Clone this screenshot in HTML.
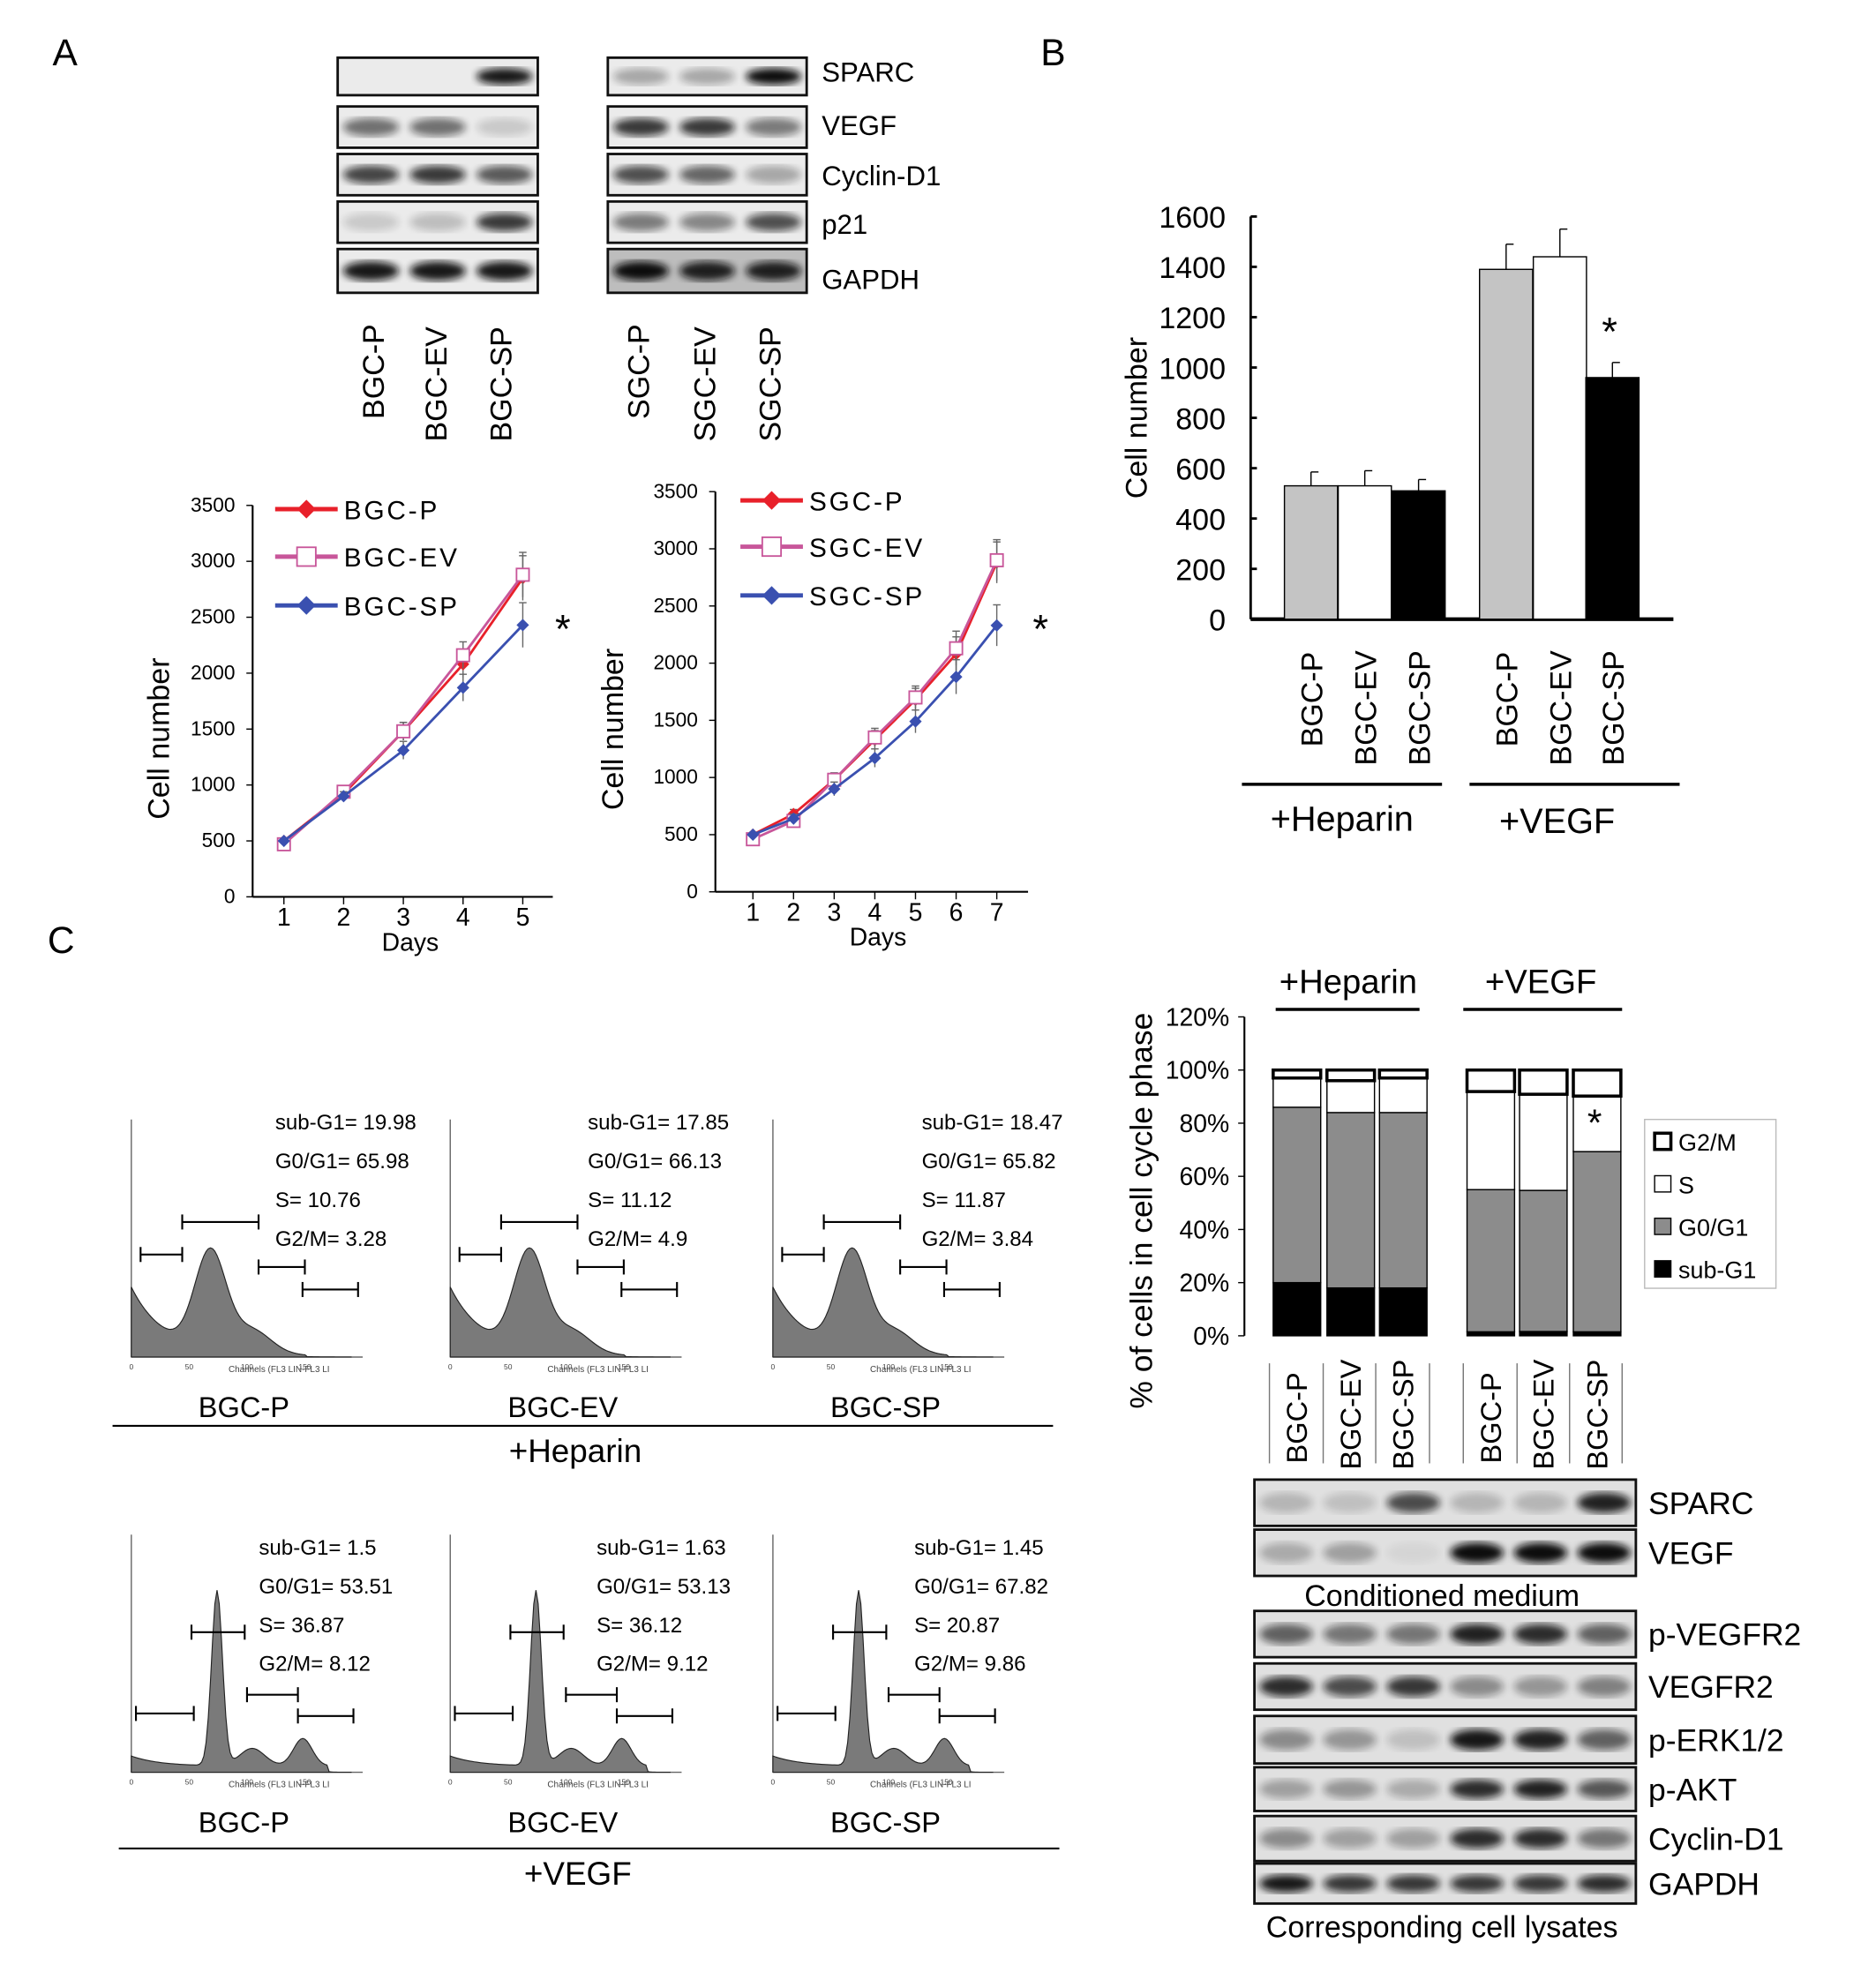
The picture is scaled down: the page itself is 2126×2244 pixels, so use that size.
<!DOCTYPE html>
<html><head><meta charset="utf-8"><style>
html,body{margin:0;padding:0;background:#fff}
svg{display:block;font-family:"Liberation Sans",Arial,sans-serif}
</style></head><body>
<svg id="fig" width="2126" height="2244" viewBox="0 0 1500 1583" xmlns="http://www.w3.org/2000/svg">
<defs><filter id="blur"><feGaussianBlur stdDeviation="3"/></filter></defs>
<rect width="1500" height="1583" fill="#fff"/>
<text x="42" y="52" font-size="30">A</text>
<text x="832" y="52" font-size="30">B</text>
<text x="38" y="762" font-size="30">C</text>
<g id="g"></g>
</svg>
<script>
// ---------- data ----------
const blotProteinsA = ['SPARC','VEGF','Cyclin-D1','p21','GAPDH'];
const blotBGC = [[0,0,0.95],[0.55,0.55,0.15],[0.75,0.8,0.65],[0.15,0.2,0.8],[0.95,0.95,0.95]];
const blotSGC = [[0.3,0.3,1],[0.8,0.8,0.5],[0.7,0.6,0.3],[0.5,0.45,0.7],[1,0.9,0.9]];
const lineDaysBGC = [1,2,3,4,5];
const bgcP = [500,920,1480,2080,2850];
const bgcEV = [470,940,1480,2160,2880];
const bgcSP = [500,900,1310,1870,2430];
const bgcErr = [20,40,80,120,200];
const lineDaysSGC = [1,2,3,4,5,6,7];
const sgcP = [500,680,980,1330,1680,2080,2880];
const sgcEV = [460,620,980,1350,1700,2130,2900];
const sgcSP = [500,640,900,1170,1490,1880,2330];
const sgcErr = [20,40,60,80,100,150,180];
const yTicksLine = [0,500,1000,1500,2000,2500,3000,3500];
const barCats = ['BGC-P','BGC-EV','BGC-SP','BGC-P','BGC-EV','BGC-SP'];
const barVals = [530,530,510,1390,1440,960];
const barErr = [55,60,45,100,110,60];
const barTicks = [0,200,400,600,800,1000,1200,1400,1600];
const subG1 = [20,18,18,1.5,1.6,1.5];
const g0g1 = [66,66,66,53.5,53,67.8];
const sPhase = [11,12,13,36.9,36.1,20.9];
const g2m = [3,4,3,8.1,9.1,9.8];
const pctTicks = [0,20,40,60,80,100,120];
const histTop = [['sub-G1= 19.98','G0/G1=  65.98','S= 10.76','G2/M=  3.28'],['sub-G1= 17.85','G0/G1=  66.13','S= 11.12','G2/M= 4.9'],['sub-G1= 18.47','G0/G1=  65.82','S= 11.87','G2/M= 3.84']];
const histBot = [['sub-G1= 1.5','G0/G1= 53.51','S= 36.87','G2/M= 8.12'],['sub-G1= 1.63','G0/G1= 53.13','S= 36.12','G2/M= 9.12'],['sub-G1= 1.45','G0/G1= 67.82','S= 20.87','G2/M= 9.86']];
const blotProteinsC = ['SPARC','VEGF','p-VEGFR2','VEGFR2','p-ERK1/2','p-AKT','Cyclin-D1','GAPDH'];
const blotC = [[0.2,0.15,0.7,0.2,0.2,0.9],[0.25,0.3,0.05,1,1,1],[0.6,0.5,0.5,0.9,0.85,0.6],[0.85,0.7,0.8,0.4,0.35,0.45],[0.4,0.35,0.15,0.95,0.9,0.6],[0.3,0.35,0.25,0.85,0.9,0.65],[0.4,0.3,0.3,0.85,0.85,0.5],[0.95,0.8,0.8,0.8,0.8,0.85]];

const G=document.getElementById('g');const NS='http://www.w3.org/2000/svg';
function el(t,a,txt,name,p){const e=document.createElementNS(NS,t);for(const k in a)e.setAttribute(k,a[k]);if(txt!==undefined&&txt!==null)e.textContent=txt;


(p||G).appendChild(e);return e;}

// ---------- blots ----------
function blot(x,y,w,h,vals,name,bg){
  el('rect',{x:x,y:y,width:w,height:h,fill:bg||'#ebebeb',stroke:'#111','stroke-width':2},null,name);
  const n=vals.length;
  vals.forEach((v,i)=>{if(v<=0)return;const cx=x+w*(i+0.5)/n;
    el('ellipse',{cx:cx,cy:y+h/2,rx:w/n*0.42,ry:h*0.22,fill:'#111',opacity:v,filter:'url(#blur)'},null,name+'-band');});
}
const rowsA=[[46,30],[85,33],[123,33],[161,33],[199,35]];
const labY=[57,100,140,179,223];
blotProteinsA.forEach((p,i)=>{
  blot(270,rowsA[i][0],160,rowsA[i][1],blotBGC[i],'bgc-blot-'+p.toLowerCase());
  blot(486,rowsA[i][0],159,rowsA[i][1],blotSGC[i],'sgc-blot-'+p.toLowerCase(),i==4?'#bdbdbd':'#ebebeb');
  el('text',{x:657,y:labY[i]+8,'font-size':22},p,'blot-label-'+p.toLowerCase());
});
['BGC-P','BGC-EV','BGC-SP','SGC-P','SGC-EV','SGC-SP'].forEach((l,i)=>{
  const x=[307,357,409,519,572,624][i];
  el('text',{x:0,y:0,'font-size':24,'text-anchor':'start',transform:`translate(${x},${i%3==0?335:353}) rotate(-90)`},l,'lane-label');
});

// ---------- line charts ----------
function lineChart(cfg){
  const {ax,x1,y0,y3500,days,series,err,xpos,legendX,legendY,star,labX,dayX}=cfg;
  const ys=v=>y0-(v/3500)*(y0-y3500);
  const xs=d=>xpos(d);
  el('line',{x1:ax,y1:y3500,x2:ax,y2:y0,stroke:'#000','stroke-width':1.5},null,'y-axis');
  el('line',{x1:ax,y1:y0,x2:x1,y2:y0,stroke:'#000','stroke-width':1.5},null,'x-axis');
  yTicksLine.forEach(t=>{el('line',{x1:ax-5,y1:ys(t),x2:ax,y2:ys(t),stroke:'#000'},null,'y-tick');
    el('text',{x:ax-14,y:ys(t)+5,'font-size':16,'text-anchor':'end'},t,'y-tick-label');});
  days.forEach(d=>{el('line',{x1:xs(d),y1:y0,x2:xs(d),y2:y0+6,stroke:'#000'},null,'x-tick');
    el('text',{x:xs(d),y:y0+23,'font-size':20,'text-anchor':'middle'},d,'x-tick-label');});
  el('text',{x:dayX,y:y0+43,'font-size':20,'text-anchor':'middle'},'Days','x-axis-title');
  el('text',{x:0,y:0,'font-size':24,'text-anchor':'middle',transform:`translate(${labX},${(y0+y3500)/2+30}) rotate(-90)`},'Cell number','y-axis-title');
  series.forEach((s,si)=>{
    s.vals.forEach((v,i)=>{const x=xs(days[i]);el('line',{x1:x,y1:ys(v-err[i]),x2:x,y2:ys(v+err[i]),stroke:'#666'},null,'error-bar');
      el('line',{x1:x-3,y1:ys(v+err[i]),x2:x+3,y2:ys(v+err[i]),stroke:'#666'},null,'error-cap');});
    el('polyline',{points:s.vals.map((v,i)=>xs(days[i])+','+ys(v)).join(' '),fill:'none',stroke:s.c,'stroke-width':2},null,s.name+'-line');
    s.vals.forEach((v,i)=>{marker(xs(days[i]),ys(v),s,s.name+'-point');});
    const ly=legendY[si];
    el('line',{x1:legendX,y1:ly,x2:legendX+50,y2:ly,stroke:s.c,'stroke-width':3.5},null,'legend-line');
    marker(legendX+25,ly,s,'legend-marker',1.5);
    el('text',{x:legendX+55,y:ly+8,'font-size':21,'letter-spacing':'2'},s.name,'legend-entry');
  });
  el('text',{x:star[0],y:star[1]+14,'font-size':32,'text-anchor':'middle'},'*','significance-star');
}
function marker(x,y,s,name,sc){sc=sc||1;
  if(s.m=='sq')el('rect',{x:x-5*sc,y:y-5*sc,width:10*sc,height:10*sc,fill:'#fff',stroke:s.c,'stroke-width':1.3},null,name);
  else el('polygon',{points:`${x},${y-5*sc} ${x+5*sc},${y} ${x},${y+5*sc} ${x-5*sc},${y}`,fill:s.c},null,name);}
lineChart({ax:202,x1:442,y0:717,y3500:404,days:lineDaysBGC,err:bgcErr,xpos:d=>227+(d-1)*47.75,
 series:[{name:'BGC-P',vals:bgcP,c:'#e8202a',m:'d'},{name:'BGC-EV',vals:bgcEV,c:'#c8569a',m:'sq'},{name:'BGC-SP',vals:bgcSP,c:'#3a50b0',m:'d'}],
 legendX:220,legendY:[407,445,484],star:[450,500],labX:135,dayX:328});
lineChart({ax:572,x1:822,y0:713,y3500:393,days:lineDaysSGC,err:sgcErr,xpos:d=>602+(d-1)*32.5,
 series:[{name:'SGC-P',vals:sgcP,c:'#e8202a',m:'d'},{name:'SGC-EV',vals:sgcEV,c:'#c8569a',m:'sq'},{name:'SGC-SP',vals:sgcSP,c:'#3a50b0',m:'d'}],
 legendX:592,legendY:[400,437,476],star:[832,500],labX:498,dayX:702});

// ---------- bar chart B ----------
(function(){
  const ax=1000,y0=495,yt=173,ys=v=>y0-v/1600*(y0-yt);
  const bx=[1027,1070,1113,1183,1226,1268],bw=42.5,fills=['#c4c4c4','#fff','#000'];
  el('line',{x1:ax,y1:yt,x2:ax,y2:y0,stroke:'#000','stroke-width':2},null,'y-axis');
  el('line',{x1:ax,y1:y0,x2:1338,y2:y0,stroke:'#000','stroke-width':3},null,'x-axis');
  barTicks.forEach(t=>{el('line',{x1:ax,y1:ys(t),x2:ax+5,y2:ys(t),stroke:'#000','stroke-width':2},null,'y-tick');
    el('text',{x:ax-20,y:ys(t)+9,'font-size':24,'text-anchor':'end'},t,'y-tick-label');});
  el('text',{x:0,y:0,'font-size':24,'text-anchor':'middle',transform:`translate(917,${(y0+yt)/2}) rotate(-90)`},'Cell number','y-axis-title');
  barVals.forEach((v,i)=>{
    const cx=bx[i]+bw/2;
    el('line',{x1:cx,y1:ys(v),x2:cx,y2:ys(v+barErr[i]),stroke:'#000'},null,'error-bar');
    el('line',{x1:cx,y1:ys(v+barErr[i]),x2:cx+6,y2:ys(v+barErr[i]),stroke:'#000'},null,'error-cap');
    el('rect',{x:bx[i],y:ys(v),width:bw,height:y0-ys(v),fill:fills[i%3],stroke:'#000','stroke-width':1},null,'bar-'+barCats[i].toLowerCase());
    el('text',{x:0,y:0,'font-size':24,'text-anchor':'start',transform:`translate(${cx+9},${i%3==0?597:612}) rotate(-90)`},barCats[i],'x-category-label');
  });
  el('text',{x:1287,y:276,'font-size':32,'text-anchor':'middle'},'*','significance-star');
  el('line',{x1:993,y1:627,x2:1153,y2:627,stroke:'#000','stroke-width':2.5},null,'group-line');
  el('line',{x1:1175,y1:627,x2:1343,y2:627,stroke:'#000','stroke-width':2.5},null,'group-line');
  el('text',{x:1073,y:664,'font-size':28,'text-anchor':'middle'},'+Heparin','group-label-heparin');
  el('text',{x:1245,y:666,'font-size':28,'text-anchor':'middle'},'+VEGF','group-label-vegf');
})();

// ---------- histograms ----------
function hist(ox,base,type,txt,tx,ty,label){
  const w=185;
  el('line',{x1:ox,y1:base-190,x2:ox,y2:base,stroke:'#666'},null,'hist-y-axis');
  el('line',{x1:ox,y1:base,x2:ox+w,y2:base,stroke:'#666'},null,'hist-x-axis');
  for(let k=0;k<=3;k++)el('text',{x:ox+k*w/4,y:base+10,'font-size':6,'text-anchor':'middle',fill:'#444'},k*50,'hist-tick');
  el('text',{x:ox+w*0.42,y:base+12,'font-size':7,fill:'#444'},'Channels (FL3 LIN-FL3 LI','hist-x-title');
  let pts=[];
  for(let i=0;i<=100;i++){const x=i/100;let y;
    if(type==0) y=50*Math.exp(-x*7)+78*Math.exp(-Math.pow((x-0.36)/0.1,2))+18*Math.exp(-Math.pow((x-0.55)/0.12,2))+6*(x<0.8?1:0)*(1-x);
    else y=8*Math.exp(-x*8)+140*Math.exp(-Math.pow((x-0.39)/0.035,2))+14*Math.exp(-Math.pow((x-0.55)/0.08,2))+22*Math.exp(-Math.pow((x-0.78)/0.06,2))+5*(x<0.9?1:0);
    pts.push((ox+x*w*0.95)+','+(base-y));}
  el('polygon',{points:ox+','+base+' '+pts.join(' ')+' '+(ox+w*0.95)+','+base,fill:'#7a7a7a',stroke:'#222','stroke-width':0.8},null,'hist-profile');
  const gates=type==0?[[0.04,0.22,1003],[0.22,0.55,977],[0.55,0.75,1013],[0.74,0.98,1031]]:[[0.02,0.27,1370],[0.26,0.49,1305],[0.5,0.72,1355],[0.72,0.96,1372]];
  gates.forEach(g=>{const y=g[2];
    el('line',{x1:ox+g[0]*w,y1:y,x2:ox+g[1]*w,y2:y,stroke:'#000','stroke-width':1.5},null,'hist-gate');
    el('line',{x1:ox+g[0]*w,y1:y-6,x2:ox+g[0]*w,y2:y+6,stroke:'#000','stroke-width':1.5},null,'hist-gate');
    el('line',{x1:ox+g[1]*w,y1:y-6,x2:ox+g[1]*w,y2:y+6,stroke:'#000','stroke-width':1.5},null,'hist-gate');});
  txt.forEach((t,i)=>el('text',{x:tx,y:ty+i*31+6,'font-size':17},t,'hist-stat'));
  el('text',{x:ox+90,y:base+48,'font-size':23,'text-anchor':'middle'},label,'hist-sample-label');
}
const hx=[105,360,618],lbl=['BGC-P','BGC-EV','BGC-SP'];
hx.forEach((x,i)=>hist(x,1085,0,histTop[i],[220,470,737][i],897,lbl[i]));
hx.forEach((x,i)=>hist(x,1417,1,histBot[i],[207,477,731][i],1237,lbl[i]));
el('line',{x1:90,y1:1140,x2:842,y2:1140,stroke:'#000','stroke-width':1.5},null,'heparin-line');
el('text',{x:460,y:1169,'font-size':26,'text-anchor':'middle'},'+Heparin','heparin-label');
el('line',{x1:95,y1:1478,x2:847,y2:1478,stroke:'#000','stroke-width':1.5},null,'vegf-line');
el('text',{x:462,y:1507,'font-size':26,'text-anchor':'middle'},'+VEGF','vegf-label');

// ---------- stacked bars ----------
(function(){
  const ax=995,y0=1068,yt=813,ys=v=>y0-v/120*(y0-yt),cx=[1037,1080,1122,1192,1234,1277],bw=38;
  el('line',{x1:ax,y1:yt,x2:ax,y2:y0,stroke:'#000','stroke-width':1.5},null,'y-axis');
  pctTicks.forEach(t=>{el('line',{x1:ax-5,y1:ys(t),x2:ax,y2:ys(t),stroke:'#000'},null,'y-tick');
    el('text',{x:ax-12,y:ys(t)+7,'font-size':20,'text-anchor':'end'},t+'%','y-tick-label');});
  el('text',{x:0,y:0,'font-size':25,'text-anchor':'middle',transform:`translate(921,968) rotate(-90)`},'% of cells in cell cycle phase','y-axis-title');
  const fills=['#000','#8c8c8c','#fff','#fff'];
  cx.forEach((c,i)=>{let acc=0;const parts=[subG1[i],g0g1[i],sPhase[i],g2m[i]];const tot=parts.reduce((a,b)=>a+b,0);
    parts.forEach((p,j)=>{const v=p/tot*100;
      el('rect',{x:c-bw/2,y:ys(acc+v),width:bw,height:ys(acc)-ys(acc+v),fill:fills[j],stroke:'#000','stroke-width':j==3?2.5:1},null,['sub-g1','g0-g1','s','g2-m'][j]+'-segment');
      const top=acc+v;
      if(j<3){el('line',{x1:c,y1:ys(top),x2:c,y2:ys(top+2.5),stroke:'#000'},null,'error-bar');el('line',{x1:c-3,y1:ys(top+2.5),x2:c+3,y2:ys(top+2.5),stroke:'#000'},null,'error-cap');}
      acc=top;});
    el('text',{x:0,y:0,'font-size':23,'text-anchor':'start',transform:`translate(${c+8},${i%3==0?1170:1175}) rotate(-90)`},barCats[i],'x-category-label');
  });
  [1015,1058,1100,1143,1170,1213,1255,1297].forEach(x=>el('line',{x1:x,y1:1090,x2:x,y2:1170,stroke:'#777'},null,'category-separator'));
  el('text',{x:1275,y:908,'font-size':30,'text-anchor':'middle'},'*','significance-star');
  el('text',{x:1078,y:794,'font-size':27,'text-anchor':'middle'},'+Heparin','group-label-heparin');
  el('line',{x1:1020,y1:807,x2:1135,y2:807,stroke:'#000','stroke-width':2.5},null,'group-line');
  el('text',{x:1232,y:794,'font-size':27,'text-anchor':'middle'},'+VEGF','group-label-vegf');
  el('line',{x1:1170,y1:807,x2:1297,y2:807,stroke:'#000','stroke-width':2.5},null,'group-line');
  el('rect',{x:1315,y:895,width:105,height:135,fill:'#fff',stroke:'#bbb'},null,'legend-box');
  [['G2/M','#fff',2.5],['S','#fff',1],['G0/G1','#8c8c8c',1],['sub-G1','#000',1]].forEach((l,i)=>{const y=913+i*34;
    el('rect',{x:1323,y:y-7,width:13,height:13,fill:l[1],stroke:'#000','stroke-width':l[2]},null,'legend-swatch');
    el('text',{x:1342,y:y+7,'font-size':19},l[0],'legend-entry');});
})();

// ---------- blots C ----------
const rowsC=[[1183,37],[1223,37],[1288,37],[1330,37],[1372,38],[1413,35],[1452,36],[1490,32]];
blotProteinsC.forEach((p,i)=>{
  blot(1003,rowsC[i][0],305,rowsC[i][1],blotC[i],'blot-c-'+p.toLowerCase(),'#e0e0e0');
  el('text',{x:1318,y:rowsC[i][0]+rowsC[i][1]/2+9,'font-size':25},p,'blot-label-'+p.toLowerCase());
});
el('text',{x:1153,y:1284,'font-size':24,'text-anchor':'middle'},'Conditioned medium','conditioned-medium-label');
el('text',{x:1153,y:1549,'font-size':24,'text-anchor':'middle'},'Corresponding cell lysates','cell-lysates-label');
</script>
</body></html>
